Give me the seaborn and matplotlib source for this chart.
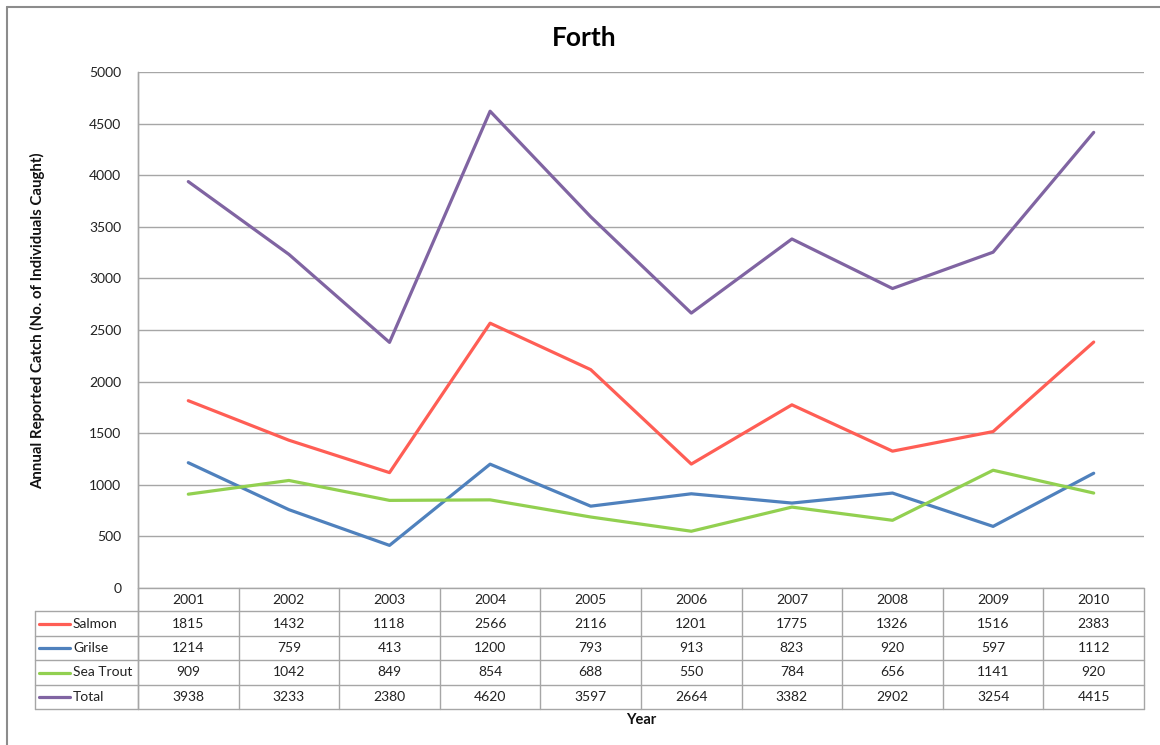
import matplotlib
matplotlib.use("Agg")
import matplotlib.pyplot as plt
import seaborn as sns
import pandas as pd
from matplotlib.lines import Line2D

# Annual reported catch, River Forth
years = ["2001", "2002", "2003", "2004", "2005", "2006", "2007", "2008", "2009", "2010"]
series_names = ["Salmon", "Grilse", "Sea Trout", "Total"]
salmon = [1815, 1432, 1118, 2566, 2116, 1201, 1775, 1326, 1516, 2383]
grilse = [1214, 759, 413, 1200, 793, 913, 823, 920, 597, 1112]
sea_trout = [909, 1042, 849, 854, 688, 550, 784, 656, 1141, 920]
total = [3938, 3233, 2380, 4620, 3597, 2664, 3382, 2902, 3254, 4415]
colors = ["#FF5E55", "#4F81BD", "#92D050", "#8064A2"]
y_ticks = [0, 500, 1000, 1500, 2000, 2500, 3000, 3500, 4000, 4500, 5000]

values = [salmon, grilse, sea_trout, total]
rows = []
for name, vals in zip(series_names, values):
    for i, v in enumerate(vals):
        rows.append({"idx": i, "year": years[i], "species": name, "catch": v})
df = pd.DataFrame(rows)

sns.set_theme(style="white")
plt.rcParams["font.family"] = ["Lato", "DejaVu Sans"]

W, H = 1160, 745
fig = plt.figure(figsize=(W / 100, H / 100), dpi=100)

PL, PR, PT, PB = 138, 1144, 72, 588
ax = fig.add_axes([PL / W, 1 - PB / H, (PR - PL) / W, (PB - PT) / H])

sns.lineplot(data=df, x="idx", y="catch", hue="species", hue_order=series_names,
             palette=colors, linewidth=2.3, legend=False, ax=ax)

ax.set_xlim(-0.5, len(years) - 0.5)
ax.set_ylim(0, 5000)
ax.set_yticks(y_ticks)
ax.set_yticklabels([str(t) for t in y_ticks], fontsize=10, color="#222222")
ax.set_xticks([])
ax.set_xlabel("")
ax.set_ylabel("")
ax.tick_params(axis="y", length=0, pad=12)
ax.yaxis.grid(True, color="#A6A6A6", linewidth=1)
ax.set_axisbelow(True)
for side in ["top", "right", "bottom"]:
    ax.spines[side].set_visible(False)
ax.spines["left"].set_color("#A6A6A6")
ax.spines["left"].set_linewidth(1)

def fx(px):
    return px / W

def fy(py):
    return 1 - py / H

grid_c = "#A6A6A6"
# data table below the plot
row_edges = [588, 611, 636, 660, 685, 709]
col_w = (PR - PL) / len(years)
LEFT = 35

def hline(y, x0, x1):
    fig.add_artist(Line2D([fx(x0), fx(x1)], [fy(y), fy(y)], color=grid_c, lw=1))

def vline(x, y0, y1):
    fig.add_artist(Line2D([fx(x), fx(x)], [fy(y0), fy(y1)], color=grid_c, lw=1))

hline(row_edges[0], PL, PR)
for y in row_edges[1:]:
    hline(y, LEFT, PR)
for j in range(len(years) + 1):
    vline(PL + j * col_w, row_edges[0], row_edges[-1])
vline(LEFT, row_edges[1], row_edges[-1])
vline(PL, PT, row_edges[-1])

for j, yr in enumerate(years):
    cx = PL + (j + 0.5) * col_w
    fig.text(fx(cx), fy((row_edges[0] + row_edges[1]) / 2), yr,
             ha="center", va="center", fontsize=10, color="#222222")

for r, (name, vals, c) in enumerate(zip(series_names, values, colors)):
    cy = (row_edges[r + 1] + row_edges[r + 2]) / 2
    fig.add_artist(Line2D([fx(39), fx(70)], [fy(cy), fy(cy)], color=c, lw=2.3))
    fig.text(fx(73), fy(cy), name, ha="left", va="center", fontsize=10, color="#222222")
    for j, v in enumerate(vals):
        cx = PL + (j + 0.5) * col_w
        fig.text(fx(cx), fy(cy), str(v), ha="center", va="center",
                 fontsize=10, color="#222222")

# titles and axis labels
fig.text(fx(584), fy(38), "Forth", ha="center", va="center",
         fontsize=19, fontweight="bold", color="#000000")
fig.text(fx(38), fy((PT + PB) / 2 - 9), "Annual Reported Catch (No. of Individuals Caught)",
         ha="center", va="center", rotation=90, fontsize=10.8, fontweight="bold", color="#111111")
fig.text(fx((PL + PR) / 2), fy(720), "Year", ha="center", va="center",
         fontsize=10.5, fontweight="bold", color="#111111")

# chart frame
fig.add_artist(Line2D([fx(7), fx(7)], [fy(7), fy(H + 5)], color="#8C8C8C", lw=1.5))
fig.add_artist(Line2D([fx(7), fx(W + 5)], [fy(7), fy(7)], color="#8C8C8C", lw=1.5))

fig.savefig("out.png", dpi=100)
